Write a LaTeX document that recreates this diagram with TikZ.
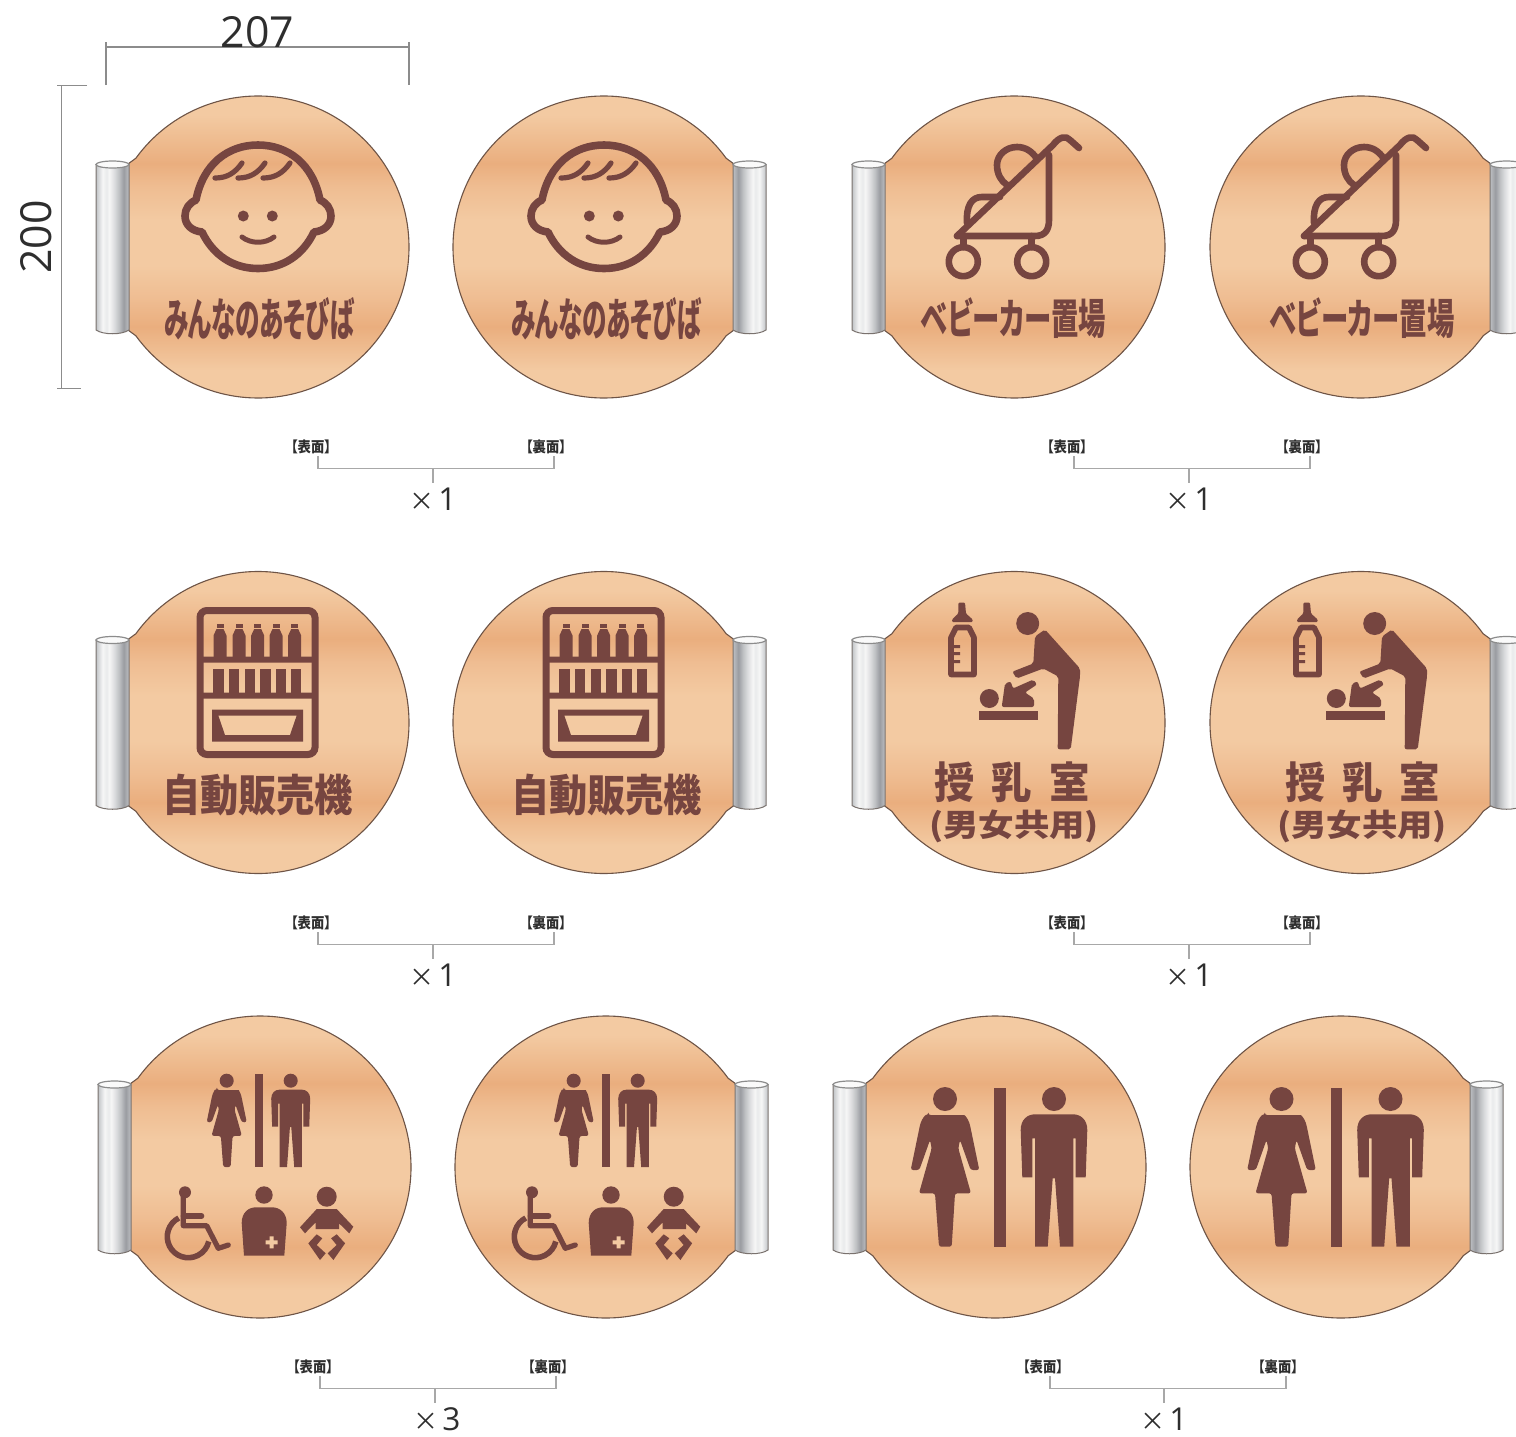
\documentclass[tikz,border=0pt]{standalone}
\usepackage{fontspec}
\usepackage{graphicx}
\setmainfont{Open Sans}
\newfontfamily\cjk[RawFeature=+palt]{Noto Sans CJK JP}
\newfontfamily\cjkb[RawFeature=+palt]{Noto Sans CJK JP Black}
\definecolor{ink}{HTML}{764540}
\definecolor{cuL}{HTML}{F3CAA2}
\definecolor{cuM}{HTML}{EFBD92}
\definecolor{cuD}{HTML}{EAAE7E}
\definecolor{rim}{HTML}{6E5446}
\definecolor{dimline}{HTML}{8C8C8C}
\definecolor{brk}{HTML}{A8A8A8}
\definecolor{txt}{HTML}{2E2E2E}
\definecolor{cyA}{HTML}{C0C3C6}
\definecolor{cyB}{HTML}{D6D8DA}
\definecolor{cyC}{HTML}{F6F6F6}
\definecolor{cyD}{HTML}{E9EAEB}
\definecolor{cyE}{HTML}{DBDCDE}
\definecolor{cyF}{HTML}{BEC0C3}
\definecolor{cyG}{HTML}{9A9CA1}
\pgfdeclareverticalshading{copper}{100bp}{color(0bp)=(cuL);color(25bp)=(cuL);color(30bp)=(cuL);color(36.6bp)=(cuD);color(41bp)=(cuM);color(46bp)=(cuL);color(53bp)=(cuL);color(58bp)=(cuM);color(61.6bp)=(cuD);color(69bp)=(cuL);color(75bp)=(cuL);color(100bp)=(cuL)}
\pgfdeclarehorizontalshading{cylL}{100bp}{color(0bp)=(cyA);color(25bp)=(cyA);color(29bp)=(cyB);color(35bp)=(cyC);color(41bp)=(cyD);color(45bp)=(cyC);color(53bp)=(cyE);color(60bp)=(cyF);color(67bp)=(cyG);color(75bp)=(cyF);color(100bp)=(cyF)}
\pgfdeclarehorizontalshading{cylR}{100bp}{color(0bp)=(cyF);color(25bp)=(cyF);color(33bp)=(cyG);color(40bp)=(cyF);color(47bp)=(cyE);color(55bp)=(cyC);color(59bp)=(cyD);color(65bp)=(cyC);color(71bp)=(cyB);color(75bp)=(cyA);color(100bp)=(cyA)}
\tikzset{
  signbody/.style={draw=rim,line width=0.55pt,shading=copper},
  cylbody/.style={draw=gray!70!rim,line width=0.5pt},
  cyltop/.style={fill=white!96!gray,draw=gray!90,line width=0.6pt},
  iconline/.style={draw=ink,line cap=round,line join=round,fill=none},
  dimstyle/.style={draw=dimline,line width=0.6pt},
  brkstyle/.style={draw=brk,line width=0.7pt},
  bigtext/.style={text=txt,inner sep=0pt,font=\fontsize{21.4}{22}\selectfont},
  counttext/.style={text=txt,inner sep=0pt,font=\fontsize{15.8}{17}\selectfont},
  jp/.style={text=ink,inner sep=0pt},
  jpsmall/.style={text=txt,inner sep=0pt}
}
% name, x, y, w, h, text
\newcommand\signtxt[6]{\node[jp] (#1) at (#2,#3) {\resizebox*{\dimexpr #4pt/2\relax}{\dimexpr #5pt/2\relax}{\cjkb #6}};}
% cx cy dir shading
\newcommand\signbase[4]{%
\begin{scope}[shift={(#1,#2)}]
  \begin{scope}[xscale=#3]
    \path[signbody] (216:151) arc (216:504:151) -- (-130,83) -- (-130,-83) -- cycle;
    \path[cylbody,shading=#4] (-162,-82.5) -- (-162,83) .. controls (-155,88) and (-136,88) .. (-129,83) -- (-129,-82.5) .. controls (-136,-86) and (-155,-86) .. cycle;
    \path[cyltop] (-145.5,-82.5) ellipse (16.5 and 3.5);
  \end{scope}
\end{scope}}
% label/bracket: id, y-label, xL, xR, xStem, yBar, textX, textY, count
\newcommand\bracket[9]{%
  \node[jpsmall] (#1l) at (#3-7,#2+0.5) {\resizebox*{20pt}{7pt}{\cjk\bfseries 【表面】}};
  \node[jpsmall] (#1r) at (#4-8,#2+0.5) {\resizebox*{20pt}{7pt}{\cjk\bfseries 【裏面】}};
  \coordinate (#1a) at (#3,#2+10);
  \coordinate (#1b) at (#3,#6);
  \coordinate (#1c) at (#4,#6);
  \coordinate (#1d) at (#4,#2+10);
  \coordinate (#1e) at (#5,#6);
  \coordinate (#1f) at (#5,#6+14);
  \draw[brkstyle] (#1a) -- (#1b) -- (#1c) -- (#1d);
  \draw[brkstyle] (#1e) -- (#1f);
  \node[counttext] (#1n) at (#7,#8) {{\cjk\fontsize{12.5}{13}\selectfont ×}\hspace{0.12em}#9};
}
\newcommand\iconface{%
  \draw[iconline,line width=3.8pt] (-62,-47) .. controls (-55,-83) and (-30,-102) .. (0,-102) .. controls (30,-102) and (55,-83) .. (62,-47) .. controls (69,-44) and (73,-38) .. (73,-31) .. controls (73,-22) and (66,-16) .. (56,-15) .. controls (45,8) and (25,21.5) .. (0,21.5) .. controls (-25,21.5) and (-45,8) .. (-56,-15) .. controls (-66,-16) and (-73,-22) .. (-73,-31) .. controls (-73,-38) and (-69,-44) .. (-62,-47) -- cycle;
  \foreach \hx in {-43,-20,5}{
    \draw[iconline,line width=2.6pt] (\hx,-69) .. controls (\hx+12,-69) and (\hx+20,-74) .. (\hx+27,-84);}
  \fill[ink] (-14.7,-31) circle (5.5) (14.3,-31) circle (5.5);
  \draw[iconline,line width=2.5pt] (-16,-10) .. controls (-7,-3) and (7,-3) .. (16,-10);
}
\newcommand\iconstroller{%
  \draw[iconline,line width=3.3pt] (-57,-11) -- (39,-102) .. controls (45,-110) and (52,-112) .. (56,-107) -- (65,-99);
  \draw[iconline,line width=3.3pt] (35,-92) -- (35,-27) .. controls (35,-17) and (31,-11) .. (21,-11) -- (-57,-11);
  \draw[iconline,line width=3.3pt] (23,-88) .. controls (18,-96) and (11,-100) .. (3,-100) .. controls (-8,-100) and (-17,-92) .. (-17,-82) .. controls (-17,-73) and (-13,-66) .. (-7,-62);
  \draw[iconline,line width=3.3pt] (-47,-24) .. controls (-48,-42) and (-42,-50) .. (-32,-50) -- (-14,-50);
  \draw[iconline,line width=3.3pt] (-50.7,-11) -- (-50.7,0) (17.7,-11) -- (17.7,0);
  \draw[iconline,line width=3.3pt] (-50.7,14.7) circle (14.5) (17.7,14.7) circle (14.5);
}
\newcommand\iconvending{%
  \draw[ink,line width=3.5pt,rounded corners=3.5pt] (-58,-112) rectangle (57,32);
  \fill[ink] (-58,-66) rectangle (57,-60) (-58,-30) rectangle (57,-24);
  \foreach \bx in {-38,-19,-0.3,18,36.7}{
    \fill[ink] (\bx-3.5,-99) rectangle (\bx+3.5,-95);
    \fill[ink] (\bx-6.5,-62) -- (\bx-6.5,-87) -- (\bx-3.5,-93.5) -- (\bx+3.5,-93.5) -- (\bx+6.5,-87) -- (\bx+6.5,-62) -- cycle;}
  \foreach \cx in {-39.7,-24,-8.3,7.3,22.7,38}{
    \fill[ink] (\cx-5.2,-54) rectangle (\cx+5.2,-30);}
  \fill[ink,even odd rule] (-46,-13) rectangle (45,19) (-39.7,-7) -- (38.7,-7) -- (32,12.5) -- (-33,12.5) -- cycle;
}
\newcommand\bottleicon{%
  \fill[ink,rounded corners=0.6pt] (-55.7,-120) -- (-49,-120) -- (-48,-109) -- (-41.3,-103) -- (-41.3,-100.5) -- (-62,-100.5) -- (-62,-103) -- (-55.7,-109) -- cycle;
  \draw[iconline,line width=2.8pt] (-58,-95) -- (-45,-95) -- (-40,-85) -- (-40,-48) -- (-63,-48) -- (-63,-85) -- cycle;
  \fill[ink] (-63,-77.5) rectangle (-54,-74.5) (-63,-70.5) rectangle (-54,-67.5) (-63,-62.5) rectangle (-54,-59.5);
}
\newcommand\iconnursing{%
  \fill[ink] (13.7,-99) circle (11.5);
  \fill[ink,rounded corners=1pt] (31,-93) -- (66,-54) -- (66,-46) -- (56.7,26.8) -- (43.7,26.8) -- (44.3,-46) -- (29.3,-54) -- (2.7,-44) -- (-1.7,-50.8) -- (19.3,-59) -- (21,-86) -- cycle;
  \fill[ink] (-24.7,-24) circle (9.5);
  \fill[ink,rounded corners=1pt] (-12.3,-15.5) -- (-9,-39) -- (-3.3,-41) -- (-1,-34) -- (19.3,-43) -- (23,-38) -- (11,-30) -- (20,-24) -- (20,-15.5) -- cycle;
  \fill[ink] (-34.7,-11.5) rectangle (24.3,-2.5);
}
\newcommand\womanfig{%
  \fill[ink] (0,0) circle (12);
  \fill[ink,rounded corners=1.2pt] (-16.7,16) -- (16.7,16) .. controls (20,16) and (23,20) .. (25,26) -- (34.3,71) -- (25.7,71) -- (15,41) -- (13.3,49.3) -- (26,94.3) -- (10,94.3) -- (6.7,147.7) -- (-6,147.7) -- (-10,94.3) -- (-26,94.3) -- (-13.3,49.3) -- (-15,41) -- (-25.7,71) -- (-34.3,71) -- (-25,26) .. controls (-23,20) and (-20,16) .. (-16.7,16) -- cycle;
}
\newcommand\manfig{%
  \fill[ink] (0,0) circle (12);
  \fill[ink] (-19,15.3) -- (19,15.3) .. controls (27,15.3) and (33.3,21) .. (33.3,31) -- (31.7,78.3) -- (21.7,78.3) -- (21.7,39.3) -- (19.3,39.3) -- (19.3,147.7) -- (6,147.7) -- (1,79.3) -- (-1.3,79.3) -- (-6.3,147.7) -- (-19,147.7) -- (-19,39.3) -- (-21.7,39.3) -- (-21.7,78.3) -- (-31.7,78.3) -- (-33.3,31) .. controls (-33.3,21) and (-27,15.3) .. (-19,15.3) -- cycle;
}
\newcommand\iconbigwc{%
  \begin{scope}[shift={(-50,-68)}]\womanfig\end{scope}
  \begin{scope}[shift={(59,-68)}]\manfig\end{scope}
  \fill[ink] (-1,-78.7) rectangle (10.7,79.7);
}
\newcommand\iconmulti{%
  \begin{scope}[shift={(-33.3,-86.3)},scale=0.585]\womanfig\end{scope}
  \begin{scope}[shift={(30.7,-86.3)},scale=0.585]\manfig\end{scope}
  \fill[ink] (-5,-92.7) rectangle (2.7,0.3);
  % wheelchair
  \fill[ink] (-75,25.3) circle (6);
  \draw[iconline,line width=2.6pt] (-76.7,28) -- (-76.7,58.7) -- (-53.3,58.7) -- (-41.7,81.3) -- (-31.7,78);
  \draw[iconline,line width=2.6pt] (-76.7,49) -- (-58.3,49);
  \draw[iconline,line width=2.8pt,line cap=butt] (-71.7,69.7) ++(243:21) arc (243:13:21);
  % attendant
  \fill[ink] (4,28) circle (8.7);
  \fill[ink] (-16,88.7) -- (-18.3,56) .. controls (-18.3,46) and (-12,40.3) .. (-4,40.3) -- (12,40.3) .. controls (20,40.3) and (26.7,46) .. (26.7,56) -- (24.3,88.7) -- cycle;
  \fill[cuL] (9.7,69.3) rectangle (13.7,81.3) (5.7,73.3) rectangle (17.7,77.3);
  % baby
  \fill[ink] (66.7,29.7) circle (10);
  \fill[ink] (56.7,42) -- (76.7,42) -- (93.3,59.7) -- (89.3,66.3) -- (79,56.3) -- (79,62) -- (55.7,62) -- (55.7,55.3) -- (45,66.3) -- (40,60.3) -- cycle;
  \fill[ink] (56.7,67.3) -- (48.3,76.3) -- (60,93) -- (65.7,86.3) -- (56.7,78) -- (62.3,71.3) -- cycle;
  \fill[ink] (76.7,67.3) -- (85.1,76.3) -- (73.4,93) -- (67.7,86.3) -- (76.7,78) -- (71.1,71.3) -- cycle;
}
\newcommand\placed[3]{\begin{scope}[shift={(#1,#2)}]#3\end{scope}}
\begin{document}
\begin{tikzpicture}[x=0.5pt,y=-0.5pt]
\useasboundingbox (0,0) rectangle (1516,1436);
\fill[white] (0,0) rectangle (1516,1436);
\clip (0,0) rectangle (1516,1436);
% row 1
\signbase{258}{247}{1}{cylL}\placed{258}{247}{\iconface}
\signbase{604}{247}{-1}{cylR}\placed{604}{247}{\iconface}
\signbase{1014}{247}{1}{cylL}\placed{1014}{247}{\iconstroller}
\signbase{1361}{247}{-1}{cylR}\placed{1361}{247}{\iconstroller}
\signtxt{ta}{259}{318.5}{190}{43}{みんなのあそびば}
\signtxt{tb}{606}{318.5}{190}{43}{みんなのあそびば}
\signtxt{tc}{1013.5}{318}{185}{41}{ベビーカー置場}
\signtxt{td}{1362}{318}{185}{41}{ベビーカー置場}
% row 2
\signbase{258}{722.5}{1}{cylL}\placed{258}{722.5}{\iconvending}
\signbase{604}{722.5}{-1}{cylR}\placed{604}{722.5}{\iconvending}
\signbase{1014}{722.5}{1}{cylL}\placed{1014}{722.5}{\iconnursing\bottleicon}
\signbase{1361}{722.5}{-1}{cylR}\placed{1361}{722.5}{\iconnursing}\placed{1359}{722.5}{\bottleicon}
\signtxt{te}{257.5}{795.5}{191}{42}{自動販売機}
\signtxt{tf}{606.5}{795.5}{191}{42}{自動販売機}
\signtxt{tg}{1012}{782}{155}{41}{授\hspace{0.42em}乳\hspace{0.42em}室}
\signtxt{th}{1014}{826}{170}{33}{(男女共用)}
\signtxt{ti}{1362.5}{782}{155}{41}{授\hspace{0.42em}乳\hspace{0.42em}室}
\signtxt{tj}{1362}{826}{170}{33}{(男女共用)}
% row 3
\signbase{260}{1167}{1}{cylL}\placed{260}{1167}{\iconmulti}
\signbase{606}{1167}{-1}{cylR}\placed{607}{1167}{\iconmulti}
\signbase{995}{1167}{1}{cylL}\placed{995}{1167}{\iconbigwc}
\signbase{1341}{1167}{-1}{cylR}\placed{1331.5}{1167}{\iconbigwc}
% dimensions
\coordinate (wa) at (106,85);
\coordinate (wb) at (106,47);
\coordinate (wc) at (409,47);
\coordinate (wd) at (409,85);
\coordinate (we) at (106,42);
\coordinate (wf) at (409,42);
\draw[dimstyle] (wa) -- (we) (wb) -- (wc) (wf) -- (wd);
\coordinate (ha) at (87,85.5);
\coordinate (hb) at (57,85.5);
\coordinate (hc) at (61.5,85.5);
\coordinate (hd) at (61.5,388.5);
\coordinate (he) at (57,388.5);
\coordinate (hf) at (81,388.5);
\draw[dimstyle] (ha) -- (hb) (hc) -- (hd) (he) -- (hf);
\node[bigtext] (wlabel) at (257.5,32.5) {207};
\node[bigtext,rotate=90] (hlabel) at (36,237) {200};
% brackets
\bracket{p}{446}{318}{554}{433}{468.5}{433}{499}{1}
\bracket{q}{446}{1074}{1310}{1189}{468.5}{1189}{499}{1}
\bracket{r}{922}{318}{554}{433}{944.5}{433}{975}{1}
\bracket{s}{922}{1074}{1310}{1189}{944.5}{1189}{975}{1}
\bracket{t}{1366}{320}{556}{435}{1388.5}{437}{1419}{3}
\bracket{u}{1366}{1050}{1286}{1164}{1388.5}{1164}{1419}{1}
\end{tikzpicture}
\end{document}
